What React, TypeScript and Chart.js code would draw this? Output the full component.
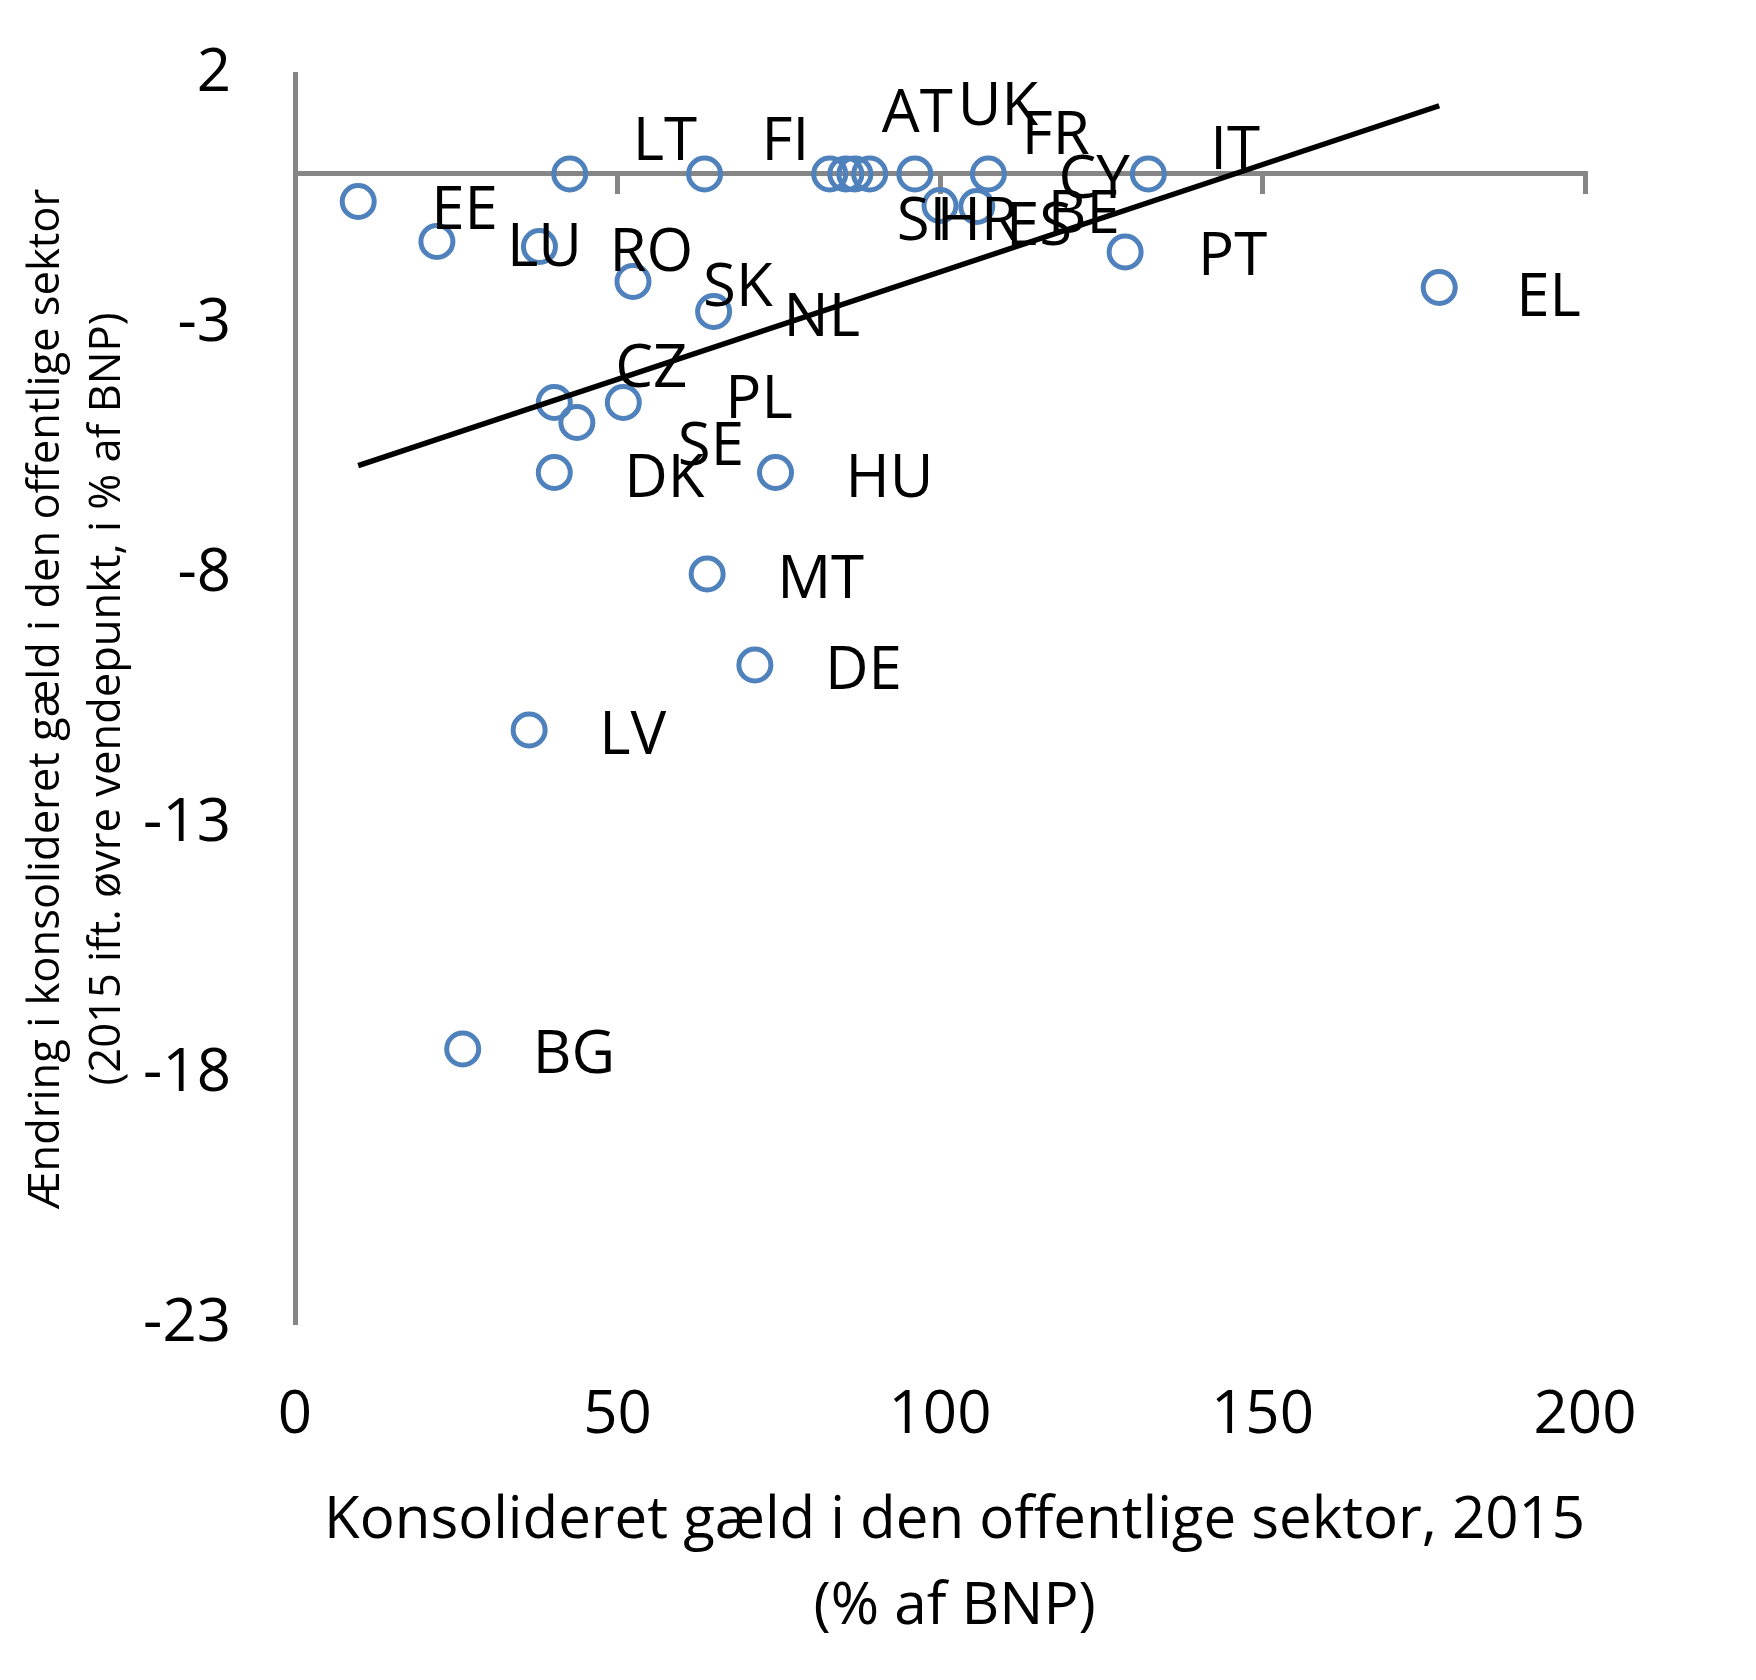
import React, { useEffect, useRef } from 'react';
import { Chart, registerables } from 'chart.js';

Chart.register(...registerables);

// country codes, debt 2015 (% of GDP) and change since peak (pp of GDP)
const countries = ['EE', 'LU', 'RO', 'SK', 'NL', 'LT', 'FI', 'CZ', 'PL', 'SE', 'DK', 'HU', 'MT', 'DE', 'LV', 'BG', 'EL', 'PT', 'SI', 'AT', 'HR', 'UK', 'FR', 'CY', 'IT', 'ES', 'BE'];
const debt2015 = [9.8, 22.0, 37.9, 52.4, 64.9, 42.6, 63.5, 40.2, 50.9, 43.7, 40.2, 74.5, 63.9, 71.3, 36.3, 26.0, 177.4, 128.7, 82.9, 85.4, 86.8, 89.1, 96.1, 107.5, 132.3, 100.0, 105.7];
const debtChange = [-0.55, -1.35, -1.45, -2.15, -2.75, 0, 0, -4.57, -4.57, -4.97, -5.97, -5.97, -8.0, -9.82, -11.12, -17.5, -2.27, -1.56, 0, 0, 0, 0, 0, 0, 0, -0.63, -0.65];

const xTicks = [0, 50, 100, 150, 200];
const yTicks = [-23, -18, -13, -8, -3, 2];

// en space in front nudges the centred title a bit to the right, as in the original
const xTitle = ['\u2002Konsolideret gæld i den offentlige sektor, 2015', '\u2002(% af BNP)'];
const yTitle = ['Ændring i konsolideret gæld i den offentlige sektor', '(2015 ift. øvre vendepunkt, i % af BNP)'];

const FONT = "'Open Sans', 'DejaVu Sans', sans-serif";
const GRAY = '#868686';
const BLUE = '#4F81BD';

// label placement tweaks (px from point centre), like the hand-moved Excel labels
const labelNudge: Record<string, [number, number]> = {
  EE: [73, 6], LT: [63, -35], FI: [57, -35], CZ: [61, -37], PL: [102, -6], SE: [101, 21],
  AT: [36, -63], UK: [88, -70], FR: [107, -41], IT: [62, -26], SI: [67, 45], HR: [82, 45],
  ES: [66, 18], BE: [71, 5], PT: [73, 2], EL: [77, 7],
};

// least squares trend line over the scatter points
function trendLine(xs: number[], ys: number[]) {
  const n = xs.length;
  const mx = xs.reduce((a, b) => a + b, 0) / n;
  const my = ys.reduce((a, b) => a + b, 0) / n;
  let sxy = 0;
  let sxx = 0;
  for (let i = 0; i < n; i++) {
    sxy += (xs[i] - mx) * (ys[i] - my);
    sxx += (xs[i] - mx) * (xs[i] - mx);
  }
  const slope = sxy / sxx;
  const icpt = my - slope * mx;
  const x0 = Math.min(...xs);
  const x1 = Math.max(...xs);
  return [{ x: x0, y: icpt + slope * x0 }, { x: x1, y: icpt + slope * x1 }];
}

const labelPlugin = {
  id: 'countryLabels',
  afterDatasetsDraw(chart: any) {
    const meta = chart.getDatasetMeta(0);
    const ctx = chart.ctx;
    const size = 60;
    ctx.save();
    ctx.font = `${size}px ${FONT}`;
    ctx.fillStyle = '#000';
    ctx.textAlign = 'left';
    ctx.textBaseline = 'alphabetic';
    meta.data.forEach((pt: any, i: number) => {
      const [dx, dy] = labelNudge[countries[i]] ?? [70, 3];
      ctx.fillText(countries[i], pt.x + dx, pt.y + dy + size * 0.357);
    });
    ctx.restore();
  },
};

export default function App() {
  const chartRef = useRef<HTMLCanvasElement>(null);

  useEffect(() => {
    if (!chartRef.current) return;
    const points = debt2015.map((x, i) => ({ x, y: debtChange[i] }));

    const chart = new Chart(chartRef.current, {
      type: 'scatter',
      data: {
        datasets: [
          {
            label: 'Lande',
            data: points,
            pointStyle: 'circle',
            pointRadius: 16,
            pointBorderWidth: 5,
            borderColor: BLUE,
            backgroundColor: 'rgba(0,0,0,0)',
            order: 1,
          },
          {
            label: 'Trend',
            data: trendLine(debt2015, debtChange),
            showLine: true,
            borderColor: '#000',
            borderWidth: 5.5,
            pointRadius: 0,
            order: 0,
          },
        ],
      },
      options: {
        animation: false,
        responsive: false,
        devicePixelRatio: 1,
        layout: { padding: { top: 74, right: 171, bottom: 0, left: 0 } },
        plugins: {
          legend: { display: false },
          tooltip: { enabled: false },
        },
        scales: {
          x: {
            type: 'linear',
            position: 'bottom',
            min: 0,
            max: 200,
            afterBuildTicks: (scale: any) => { scale.ticks = xTicks.map(v => ({ value: v })); },
            afterFit: (scale: any) => { scale.height = 356; },
            ticks: { padding: 48, color: '#000', font: { family: FONT, size: 60 } },
            grid: { display: false },
            border: { display: false },
            title: {
              display: true,
              text: xTitle,
              color: '#000',
              font: { family: FONT, size: 58.5, lineHeight: 1.47 },
              padding: { top: 0, bottom: 30 },
            },
          },
          x2: {
            type: 'linear',
            position: { y: 0 },
            min: 0,
            max: 200,
            afterBuildTicks: (scale: any) => { scale.ticks = xTicks.map(v => ({ value: v })); },
            ticks: { display: false },
            grid: { drawOnChartArea: false, drawTicks: true, tickLength: 18, color: GRAY, lineWidth: 5 },
            border: { display: true, color: GRAY, width: 5 },
          },
          y: {
            type: 'linear',
            min: -23,
            max: 2,
            afterBuildTicks: (scale: any) => { scale.ticks = yTicks.map(v => ({ value: v })); },
            afterFit: (scale: any) => {
              scale.width = 295;
              scale.paddingTop = 0;
              scale.paddingBottom = 0;
            },
            ticks: { padding: 56, color: '#000', font: { family: FONT, size: 60 } },
            grid: { display: false },
            border: { display: true, color: GRAY, width: 5 },
            title: {
              display: true,
              text: yTitle,
              color: '#000',
              font: { family: FONT, size: 43.5, lineHeight: 1.4 },
              padding: { top: 16, bottom: 0 },
            },
          },
        },
      } as any,
      plugins: [labelPlugin],
    });

    return () => chart.destroy();
  }, []);

  return (
    <div style={{ position: 'absolute', left: 0, top: 0, width: 1756, height: 1680, background: '#fff' }}>
      <canvas ref={chartRef} width={1756} height={1680} />
    </div>
  );
}
